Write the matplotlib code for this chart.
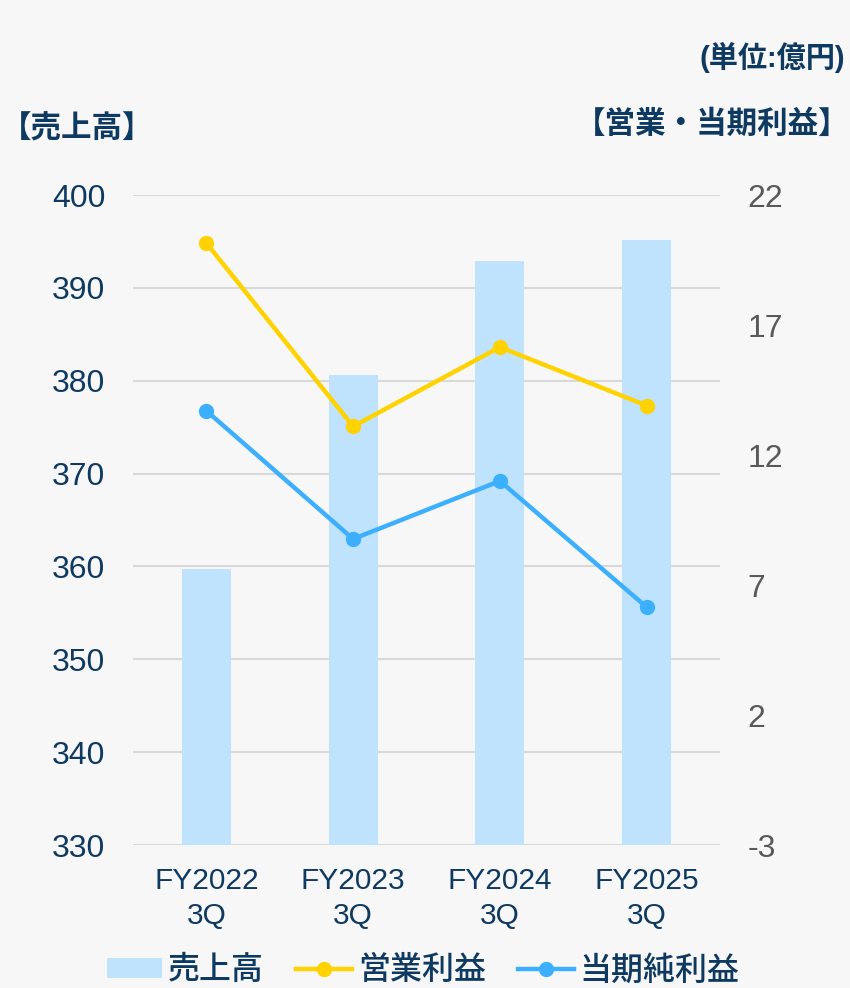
import matplotlib
matplotlib.use("Agg")
import matplotlib.pyplot as plt
from matplotlib.patches import Patch
from matplotlib.lines import Line2D

plt.rcParams['font.family'] = ['Liberation Sans', 'Noto Sans CJK JP', 'DejaVu Sans']
plt.rcParams['axes.unicode_minus'] = False

categories = ["FY2022\n3Q", "FY2023\n3Q", "FY2024\n3Q", "FY2025\n3Q"]
sales = [359.7, 380.6, 392.9, 395.2]
operating_profit = [20.15, 13.1, 16.15, 13.9]
net_profit = [13.7, 8.77, 11.0, 6.15]
left_ticks = [330, 340, 350, 360, 370, 380, 390, 400]
right_ticks = [-3, 2, 7, 12, 17, 22]

navy = '#0e3a62'
gray = '#595959'
bg = '#f7f7f7'
bar_c = '#bfe3fc'
yel = '#ffd200'
blu = '#3cb0ff'

fig = plt.figure(figsize=(8.5, 9.88), dpi=100, facecolor=bg)
ax = fig.add_axes([133/850, 1-845/988, 587/850, 650/988])
ax.set_facecolor(bg)
x = list(range(len(categories)))
ax.bar(x, [s - 330 for s in sales], bottom=330, width=0.333, color=bar_c, zorder=2)
ax.set_ylim(330, 400)
ax.set_xlim(-0.5, 3.5)
ax.set_yticks(left_ticks)
ax.set_xticks(x)
ax.set_xticklabels(categories, fontsize=21.5, color=navy, linespacing=1.3)
ax.tick_params(axis='y', labelsize=23, colors=navy, length=0, pad=20)
ax.tick_params(axis='x', length=0, pad=16)
ax.grid(axis='y', color='#d9d9d9', linewidth=1.5, zorder=0)
for s in ax.spines.values():
    s.set_visible(False)

ax2 = ax.twinx()
ax2.patch.set_visible(False)
ax2.set_ylim(-3, 22)
ax2.set_yticks(right_ticks)
ax2.tick_params(axis='y', labelsize=23, colors=gray, length=0, pad=20)
for s in ax2.spines.values():
    s.set_visible(False)
ax2.plot(x, operating_profit, color=yel, linewidth=3.2, marker='o', markersize=10, zorder=3)
ax2.plot(x, net_profit, color=blu, linewidth=3.2, marker='o', markersize=10, zorder=3)

fig.text(845/850, 1-57/988, "(単位:億円)", ha='right', va='center', fontsize=21, fontweight='bold', color=navy)
fig.text(849/850, 1-125/988, "【営業・当期利益】", ha='right', va='center', fontsize=22, fontweight='bold', color=navy)
fig.text(1/850, 1-130/988, "【売上高】", ha='left', va='center', fontsize=22, fontweight='bold', color=navy)

handles = [
    Patch(facecolor=bar_c, edgecolor='none'),
    Line2D([0], [0], color=yel, linewidth=3.2, marker='o', markersize=10),
    Line2D([0], [0], color=blu, linewidth=3.2, marker='o', markersize=10),
]
labels = ["売上高", "営業利益", "当期純利益"]
leg = fig.legend(handles, labels, loc='center', bbox_to_anchor=(423/850, 1-971/988), ncol=3,
                 frameon=False, prop={'size': 23, 'weight': 'medium'},
                 handlelength=1.75, handletextpad=0.18,
                 columnspacing=1.0, handleheight=0.6)
for t in leg.get_texts():
    t.set_color(navy)

fig.savefig("out.png", dpi=100, facecolor=bg)
